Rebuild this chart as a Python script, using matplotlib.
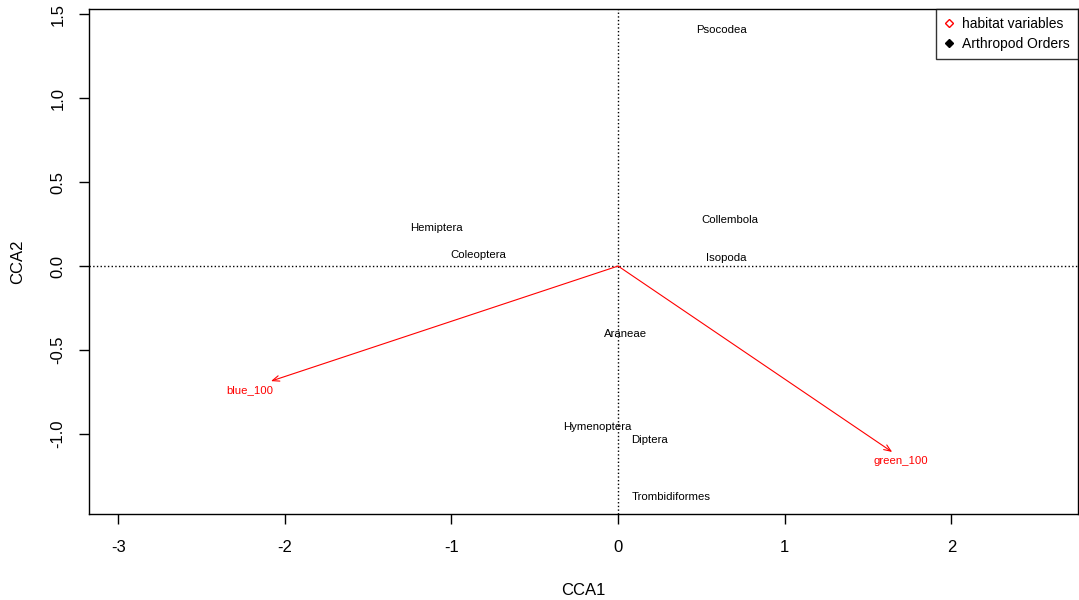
import matplotlib
matplotlib.use("Agg")
from matplotlib import pyplot as plt
from matplotlib.lines import Line2D

plt.rcParams['font.family'] = ['Liberation Sans', 'DejaVu Sans']

# species scores (CCA1, CCA2)
SPECIES = ['Psocodea', 'Collembola', 'Isopoda', 'Hemiptera', 'Coleoptera',
           'Araneae', 'Hymenoptera', 'Diptera', 'Trombidiformes']
SP_X = [0.618, 0.672, 0.648, -1.092, -0.840, 0.042, -0.126, 0.186, 0.318]
SP_Y = [1.405, 0.274, 0.048, 0.226, 0.065, -0.405, -0.958, -1.036, -1.375]

# biplot arrows for habitat variables
ENV = ['blue_100', 'green_100']
ENV_X = [-2.083, 1.645]
ENV_Y = [-0.685, -1.107]
ENV_LX = [-2.209, 1.699]
ENV_LY = [-0.738, -1.161]

XTICKS = [-3, -2, -1, 0, 1, 2]
YTICKS = [-1.0, -0.5, 0.0, 0.5, 1.0, 1.5]

W, H = 1079, 600
fig = plt.figure(figsize=(W / 100.0, H / 100.0), dpi=100)
ax = fig.add_axes([89.0 / W, (H - 514.0) / H, (1078.0 - 89.0) / W, (514.0 - 9.0) / H])

ax.set_xlim(-3.175, 2.76)
ax.set_ylim(-1.476, 1.53)

ax.axhline(0, color='black', linestyle=':', linewidth=1)
ax.axvline(0, color='black', linestyle=':', linewidth=1)

for name, x, y in zip(SPECIES, SP_X, SP_Y):
    ax.text(x, y, name, fontsize=8.2, ha='center', va='center', color='black')

for name, x, y, lx, ly in zip(ENV, ENV_X, ENV_Y, ENV_LX, ENV_LY):
    ax.annotate('', xy=(x, y), xytext=(0, 0),
                arrowprops=dict(arrowstyle='->,head_length=0.5,head_width=0.2',
                                color='red', lw=0.8, shrinkA=0, shrinkB=0))
    ax.text(lx, ly, name, fontsize=8.2, ha='center', va='center', color='red')

ax.set_xticks(XTICKS)
ax.set_xticklabels([str(t) for t in XTICKS])
ax.set_yticks(YTICKS)
ax.set_yticklabels(['%.1f' % t for t in YTICKS], rotation=90, va='center')
ax.tick_params(direction='out', length=7, width=1, labelsize=12, pad=10)
ax.tick_params(axis='x', pad=12)
for s in ax.spines.values():
    s.set_linewidth(1)

ax.set_xlabel('CCA1', fontsize=12, labelpad=20)
ax.set_ylabel('CCA2', fontsize=12, labelpad=18)

handles = [Line2D([], [], linestyle='none', marker='D', markersize=4.5,
                  markerfacecolor='white', markeredgecolor='red'),
           Line2D([], [], linestyle='none', marker='D', markersize=4.5,
                  markerfacecolor='black', markeredgecolor='black')]
leg = ax.legend(handles, ['habitat variables', 'Arthropod Orders'],
                loc='upper right', fontsize=10, frameon=True, fancybox=False,
                edgecolor='black', borderaxespad=0, handlelength=0.8,
                handletextpad=0.5, borderpad=0.6, labelspacing=0.4)
leg.get_frame().set_linewidth(1)

fig.savefig('out.png', dpi=100)
